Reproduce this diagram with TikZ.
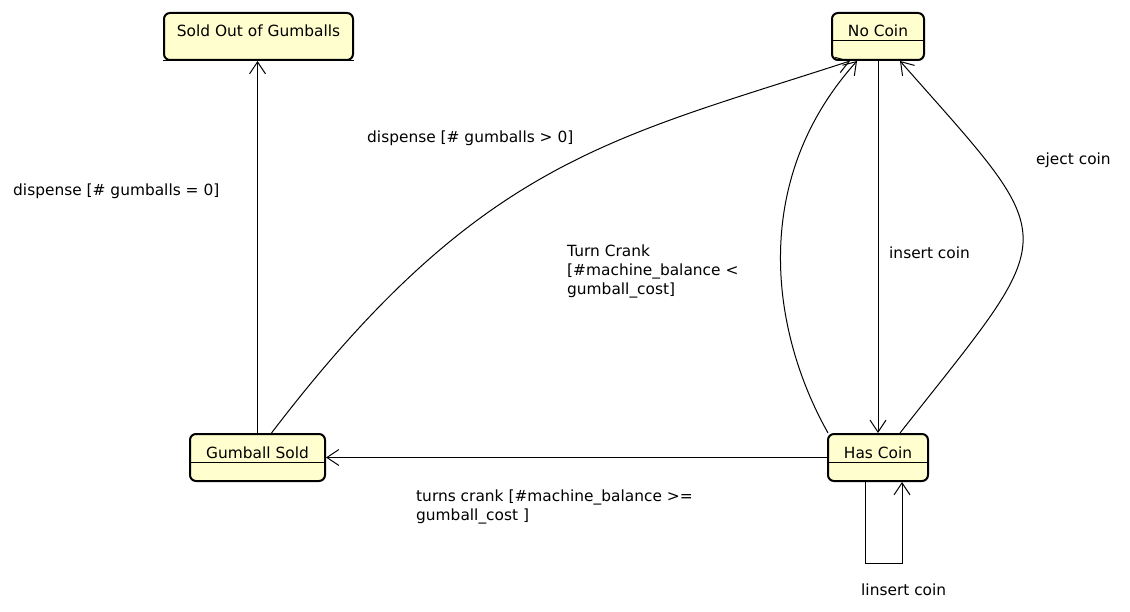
\documentclass[tikz,border=0pt]{standalone}
\usepackage{fontspec}
\setmainfont{DejaVu Sans}
\usetikzlibrary{positioning,arrows.meta,calc}

\begin{document}
\begin{tikzpicture}[x=1pt,y=-1pt,font=\fontsize{15.4}{19}\selectfont]
  \tikzstyle{state}=[rounded corners=6pt,draw,line width=2pt,fill={rgb,255:red,254;green,254;blue,206},inner sep=0pt,text height=24pt,text depth=23pt,minimum height=47pt]
  \tikzstyle{tr}=[line width=1pt,-{Straight Barb[length=12pt,width=16pt]}]
  \tikzstyle{lbl}=[inner sep=0pt,anchor=west,align=left]
  \useasboundingbox (0,0) rectangle (1130,612);
  \node[state,minimum width=189pt] (soldout) at (258.5,36.5) {Sold Out of Gumballs};
  \node[state,minimum width=92pt] (nocoin) at (878,36.5) {No Coin};
  \node[state,minimum width=100pt] (hascoin) at (878,457.5) {Has Coin};
  \node[state,minimum width=135pt] (sold) at (257.5,457.5) {Gumball Sold};
  \draw[line width=1pt] (soldout.south west) -- (soldout.south east);
  \foreach \s in {nocoin,hascoin,sold}
    \draw[line width=1pt] ([yshift=-29pt]\s.north west) -- ([yshift=-29pt]\s.north east);
  \draw[tr] (sold.north) -- (sold.north |- soldout.south);
  \draw[tr] ([xshift=14pt]sold.north) .. controls (480,160) and (611,139) .. ([xshift=-28pt]nocoin.south);
  \draw[tr] (hascoin.west) -- (sold.east);
  \draw[tr] ([xshift=1pt]hascoin.north west) .. controls (770,330) and (750,180) .. ([xshift=-21pt]nocoin.south);
  \draw[tr] (nocoin.south) -- (hascoin.north);
  \draw[tr] ([xshift=22pt]hascoin.north) .. controls (1063,226) and (1065,248) .. ([xshift=22pt]nocoin.south);
  \draw[tr] ([xshift=-13pt]hascoin.south) -- ++(0,81) -| ([xshift=24pt]hascoin.south);
  \node[lbl] (lEmpty) at (13,191) {dispense [\# gumballs = 0]};
  \node[lbl] (lMore) at (367,138) {dispense [\# gumballs > 0]};
  \node[lbl,anchor=north west] (lLow) at (567,245) {Turn Crank\\{[}\#machine\_balance <\\gumball\_cost]};
  \node[lbl] (lInsert) at (889,253) {insert coin};
  \node[lbl] (lEject) at (1036,160) {eject coin};
  \node[lbl,anchor=north west] (lHigh) at (416,490) {turns crank [\#machine\_balance >=\\gumball\_cost ]};
  \node[lbl] (lLoop) at (861,590) {linsert coin};
\end{tikzpicture}
\end{document}
